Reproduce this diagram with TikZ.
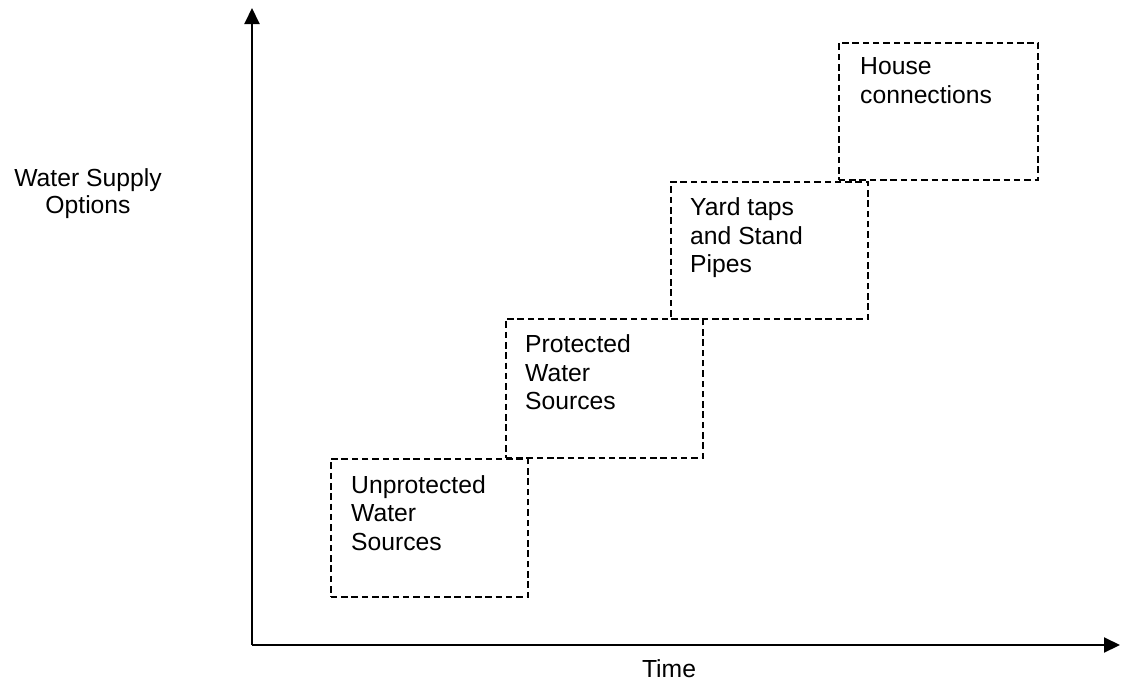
\documentclass[tikz,border=0pt]{standalone}
\usepackage{fontspec}
\setmainfont{Liberation Sans}
\usetikzlibrary{arrows.meta}
\begin{document}
\begin{tikzpicture}[x=1pt,y=-1pt,
  axis/.style={line width=2pt,-{Triangle[width=15pt,length=16pt]}},
  stagebox/.style={draw,line width=1.7pt,dash pattern=on 6.5pt off 3.8pt,
    minimum width=197pt,minimum height=137pt,inner sep=0pt,anchor=north west},
  stagelabel/.style={anchor=north west,inner sep=0pt,align=left,
    font=\fontsize{24.7}{28.5}\selectfont},
  axislabel/.style={inner sep=0pt,align=center,
    font=\fontsize{24.7}{27.5}\selectfont}]
\useasboundingbox (0,0) rectangle (1121,680);

% axes
\coordinate (origin) at (252,645);
\coordinate (ytip) at (252,8);
\coordinate (xtip) at (1120,645);
\draw[axis] (origin) -- (ytip);
\draw[axis] (origin) -- (xtip);

\node[axislabel,anchor=north] (ylab) at (88,168.3) {Water Supply\\Options};
\node[axislabel,anchor=base] (xlab) at (669,677) {Time};

% stages
\node[stagebox,minimum height=138pt] (b1) at (330,458) {};
\node[stagebox,minimum height=139pt] (b2) at (505,318) {};
\node[stagebox] (b3) at (670,181) {};
\node[stagebox,minimum width=199pt] (b4) at (838,42) {};

\node[stagelabel] (t1) at ([shift={(21,17)}]b1.north west) {Unprotected\\Water\\Sources};
\node[stagelabel] (t2) at ([shift={(20,16.5)}]b2.north west) {Protected\\Water\\Sources};
\node[stagelabel] (t3) at ([shift={(20,16.5)}]b3.north west) {Yard taps\\and Stand\\Pipes};
\node[stagelabel] (t4) at ([shift={(22,15.5)}]b4.north west) {House\\connections};
\end{tikzpicture}
\end{document}
